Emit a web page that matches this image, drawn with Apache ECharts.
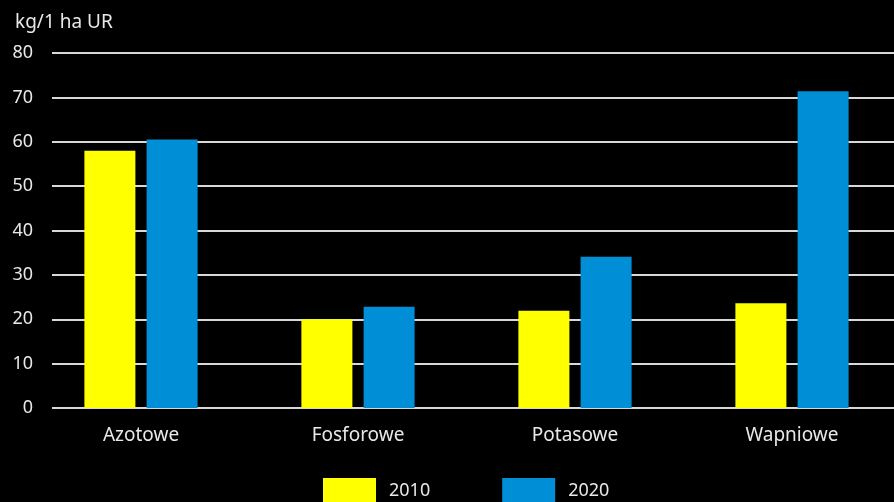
<!DOCTYPE html>
<html>
<head>
<meta charset="utf-8">
<script src="https://cdn.jsdelivr.net/npm/echarts@6/dist/echarts.min.js"></script>
<style>
html,body{margin:0;padding:0;background:#000;}
#chart{width:894px;height:502px;}
</style>
</head>
<body>
<div id="chart"></div>
<script>
const categories = ['Azotowe', 'Fosforowe', 'Potasowe', 'Wapniowe'];
const seriesNames = ['2010', '2020'];
const values2010 = [58, 20, 21.9, 23.6];
const values2020 = [60.5, 22.8, 34.1, 71.4];
const yTicks = [0, 10, 20, 30, 40, 50, 60, 70, 80];
const unitLabel = 'kg/1 ha UR';

const txt = '#e8e8e8';
const font = 'Noto Sans';
const chart = echarts.init(document.getElementById('chart'));
chart.setOption({
  backgroundColor: '#000',
  animation: false,
  title: {
    text: unitLabel, left: 10, top: 8,
    textStyle: {color: txt, fontSize: 19, fontWeight: 'normal', fontFamily: font}
  },
  legend: {
    data: seriesNames, left: 323, top: 478, itemWidth: 53, itemHeight: 26,
    itemGap: 72, icon: 'rect', padding: 0,
    textStyle: {color: txt, fontSize: 18, fontFamily: font, padding: [0, 0, 0, 8]}
  },
  grid: [
    {left: 141, width: 651, top: 53, height: 355},
    {left: 52, right: 0, top: 53, height: 355}
  ],
  xAxis: [
    {type: 'category', gridIndex: 0, data: categories, boundaryGap: false,
     axisLine: {show: false}, axisTick: {show: false}, splitLine: {show: false},
     axisLabel: {color: txt, fontSize: 19, fontFamily: font, margin: 18}},
    {type: 'value', gridIndex: 1, min: 0, max: 1, show: false}
  ],
  yAxis: [
    {type: 'value', gridIndex: 0, min: 0, max: 80, interval: 10, show: false},
    {type: 'value', gridIndex: 1, min: yTicks[0], max: yTicks[yTicks.length - 1], interval: 10,
     axisLine: {show: false}, axisTick: {show: false},
     axisLabel: {color: txt, fontSize: 18, fontFamily: font, margin: 19},
     splitLine: {lineStyle: {color: '#d8d8d8', width: 2}}}
  ],
  series: [
    {name: seriesNames[0], type: 'bar', xAxisIndex: 0, yAxisIndex: 0, data: values2010, clip: false,
     barWidth: 51, barGap: '22%', itemStyle: {color: '#FFFF00'}},
    {name: seriesNames[1], type: 'bar', xAxisIndex: 0, yAxisIndex: 0, data: values2020, clip: false,
     barWidth: 51, barGap: '22%', itemStyle: {color: '#008ED6'}}
  ]
});
</script>
</body>
</html>
